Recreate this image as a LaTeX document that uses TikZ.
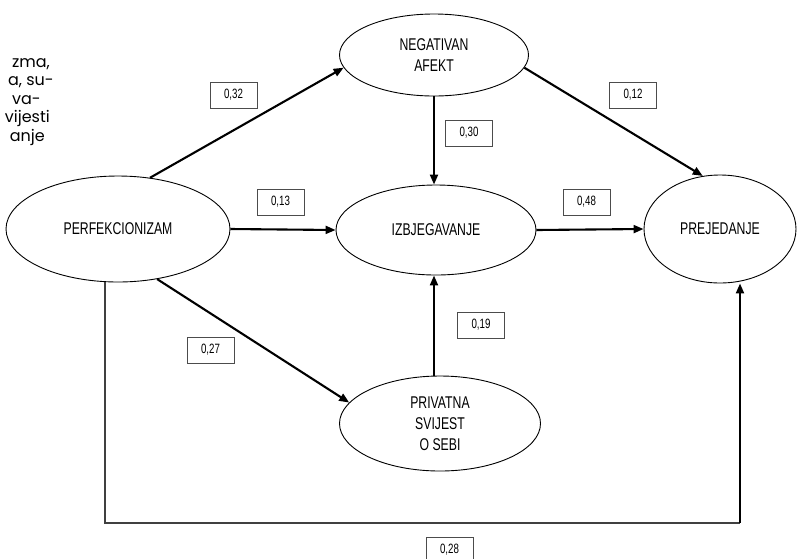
\documentclass[tikz,border=0pt]{standalone}
\usepackage{fontspec}
\setmainfont[FakeStretch=0.72]{Liberation Sans}
\newfontfamily\fragfont{Poppins}
\usetikzlibrary{shapes.geometric,arrows.meta}
\begin{document}
\begin{tikzpicture}[x=1pt,y=-1pt,
  latent/.style={draw, ellipse, line width=0.9pt, inner sep=0pt, align=center,
    font=\fontsize{17}{21}\selectfont},
  coef/.style={draw=black!70, line width=0.8pt, minimum width=47pt, minimum height=26pt,
    inner sep=0pt, font=\fontsize{13.5}{15}\selectfont},
  pathar/.style={line width=2.1pt, -{Triangle[length=10pt,width=8pt]}},
  botline/.style={line width=1.1pt, draw=black!75},
  frag/.style={anchor=base east, inner sep=0pt, font=\fragfont\fontsize{16}{18}\selectfont, text=black}
]
\useasboundingbox (0,0) rectangle (798,558);
\clip (0,0) rectangle (798,558);

% page fragment on the left
\node[frag] (f1) at (50,67) {zma,};
\node[frag] (f2) at (54,85.5) {a, su-};
\node[frag] (f3) at (41,104) {va-};
\node[frag] (f4) at (50,122.5) {vijesti};
\node[frag] (f5) at (45,141) {anje};

% latent variables
\node[latent, minimum width=224pt, minimum height=106pt] (perf) at (118,229) {PERFEKCIONIZAM};
\node[latent, minimum width=189pt, minimum height=82pt] (na) at (434,55) {NEGATIVAN\\AFEKT};
\node[latent, minimum width=200pt, minimum height=90pt] (izb) at (436,230) {IZBJEGAVANJE};
\node[latent, minimum width=152pt, minimum height=108pt] (prej) at (720,229) {PREJEDANJE};
\node[latent, minimum width=201pt, minimum height=95pt] (pss) at (440,423.5) {PRIVATNA\\SVIJEST\\O SEBI};

% coefficients
\node[coef] (c32) at (233.5,95) {0,32};
\node[coef] (c13) at (280.5,202) {0,13};
\node[coef] (c30) at (469,133) {0,30};
\node[coef] (c12) at (633,95) {0,12};
\node[coef] (c48) at (586.5,202) {0,48};
\node[coef] (c27) at (210.5,350) {0,27};
\node[coef] (c19) at (481,325) {0,19};
\node[coef] (c28) at (449.5,550) {0,28};

% paths
\draw[pathar] (perf.58) -- (na.188);
\draw[pathar] (perf.east) -- (izb.west);
\draw[pathar] (perf.-52) -- (pss.167);
\draw[pathar] (na.south) -- (na.south |- izb.north);
\draw[pathar] (na.-8) -- (prej.108);
\draw[pathar] (izb.east) -- (prej.west);
\draw[pathar] (pss.north -| na.south) -- (na.south |- izb.south);

% direct path along the bottom
\coordinate (bl) at (105,523);
\coordinate (br) at (740,523);
\draw[botline] (perf.south -| bl) -- (bl) -- (br);
\draw[pathar] (br) -- (prej.south -| br);
\end{tikzpicture}
\end{document}
